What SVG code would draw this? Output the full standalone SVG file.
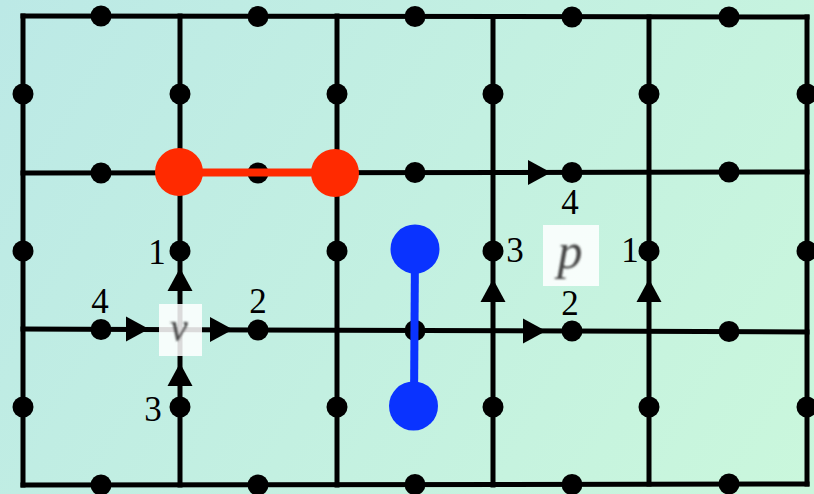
<svg xmlns="http://www.w3.org/2000/svg" xmlns:xlink="http://www.w3.org/1999/xlink" width="814" height="494" viewBox="0 0 814 494">
<defs>
<linearGradient id="bg" x1="0" y1="0" x2="814" y2="494" gradientUnits="userSpaceOnUse">
<stop offset="0" stop-color="#BCE9E6"/>
<stop offset="1" stop-color="#CAF7DC"/>
</linearGradient>
<path id="ar" d="M-11,-12.5 L12,0 L-11,12.5 Z" fill="#000"/>
<filter id="blur" x="-20%" y="-20%" width="140%" height="140%"><feGaussianBlur stdDeviation="1.1"/></filter>
</defs>
<style>
.g{stroke:#000;stroke-width:5;fill:none;stroke-linecap:square}
.d{fill:#000}
.t{font-family:"Liberation Serif","Times New Roman",serif;font-size:35px;fill:#000;text-anchor:middle}
.box{fill:#FFFFFF;fill-opacity:0.86}
.sym{font-family:"Liberation Serif","Times New Roman",serif;font-style:italic;fill:#444;text-anchor:middle;filter:url(#blur)}
</style>
<rect width="814" height="494" fill="url(#bg)"/>
<g id="connectors">
<path class="g" d="M23,16 L807,17"/>
<path class="g" d="M23,173 L807,172"/>
<path class="g" d="M23,329 L807,332"/>
<path class="g" d="M23,485 L807,484"/>
<path class="g" d="M23,16 L23,485"/>
<path class="g" d="M180,16 L180,485"/>
<path class="g" d="M337,16 L337,485"/>
<path class="g" d="M493,17 L493,485"/>
<path class="g" d="M649,17 L649,484"/>
<path class="g" d="M807,17 L807,484"/>
<use xlink:href="#ar" transform="translate(137,329)"/>
<use xlink:href="#ar" transform="translate(221,329.5)"/>
<use xlink:href="#ar" transform="translate(180,280) rotate(-90)"/>
<use xlink:href="#ar" transform="translate(180,375) rotate(-90)"/>
<use xlink:href="#ar" transform="translate(539,172.5)"/>
<use xlink:href="#ar" transform="translate(534,331)"/>
<use xlink:href="#ar" transform="translate(493,291) rotate(-90)"/>
<use xlink:href="#ar" transform="translate(649,291) rotate(-90)"/>
</g>
<g id="dots">
<circle class="d" cx="101" cy="16" r="10.5"/><circle class="d" cx="258" cy="16.5" r="10.5"/><circle class="d" cx="415" cy="16.5" r="10.5"/><circle class="d" cx="572" cy="17" r="10.5"/><circle class="d" cx="729" cy="17" r="10.5"/>
<circle class="d" cx="23" cy="94" r="10.5"/><circle class="d" cx="180" cy="94" r="10.5"/><circle class="d" cx="337" cy="94" r="10.5"/><circle class="d" cx="493" cy="94" r="10.5"/><circle class="d" cx="649" cy="94" r="10.5"/><circle class="d" cx="807" cy="94" r="10.5"/>
<circle class="d" cx="101" cy="173" r="10.5"/><circle class="d" cx="258" cy="173" r="10.5"/><circle class="d" cx="415" cy="172.5" r="10.5"/><circle class="d" cx="572" cy="172.5" r="10.5"/><circle class="d" cx="729" cy="172" r="10.5"/>
<circle class="d" cx="23" cy="251" r="10.5"/><circle class="d" cx="180" cy="251" r="10.5"/><circle class="d" cx="337" cy="251" r="10.5"/><circle class="d" cx="493" cy="251" r="10.5"/><circle class="d" cx="649" cy="251" r="10.5"/><circle class="d" cx="807" cy="251" r="10.5"/>
<circle class="d" cx="101" cy="329.5" r="10.5"/><circle class="d" cx="258" cy="330" r="10.5"/><circle class="d" cx="415" cy="330.5" r="10.5"/><circle class="d" cx="572" cy="331" r="10.5"/><circle class="d" cx="729" cy="331.5" r="10.5"/>
<circle class="d" cx="23" cy="407" r="10.5"/><circle class="d" cx="180" cy="407" r="10.5"/><circle class="d" cx="337" cy="407" r="10.5"/><circle class="d" cx="493" cy="407" r="10.5"/><circle class="d" cx="649" cy="407" r="10.5"/><circle class="d" cx="807" cy="407" r="10.5"/>
<circle class="d" cx="101" cy="485" r="10.5"/><circle class="d" cx="258" cy="485" r="10.5"/><circle class="d" cx="415" cy="484.5" r="10.5"/><circle class="d" cx="572" cy="484.5" r="10.5"/><circle class="d" cx="729" cy="484" r="10.5"/>
</g>
<g id="red-pair">
<line x1="179" y1="172.5" x2="335" y2="172.5" stroke="#FF2A00" stroke-width="8"/>
<circle cx="179" cy="172" r="24" fill="#FF2A00"/>
<circle cx="335" cy="173" r="24" fill="#FF2A00"/>
</g>
<g id="blue-pair">
<line x1="415" y1="250" x2="414" y2="405" stroke="#0A33FF" stroke-width="8"/>
<circle cx="415" cy="249" r="24.5" fill="#0A33FF"/>
<circle cx="413.5" cy="406" r="24.5" fill="#0A33FF"/>
</g>
<g id="node-v">
<rect class="box" x="159" y="304" width="43" height="52"/>
<text class="sym" x="179" y="341" font-size="40">v</text>
<text class="t" x="157" y="264">1</text>
<text class="t" x="258" y="313">2</text>
<text class="t" x="153" y="421">3</text>
<text class="t" x="100" y="313">4</text>
</g>
<g id="node-p">
<rect class="box" x="543" y="225" width="56" height="61"/>
<text class="sym" x="570" y="268" font-size="50">p</text>
<text class="t" x="630" y="262">1</text>
<text class="t" x="570" y="315">2</text>
<text class="t" x="515" y="262">3</text>
<text class="t" x="570" y="214">4</text>
</g>
</svg>
